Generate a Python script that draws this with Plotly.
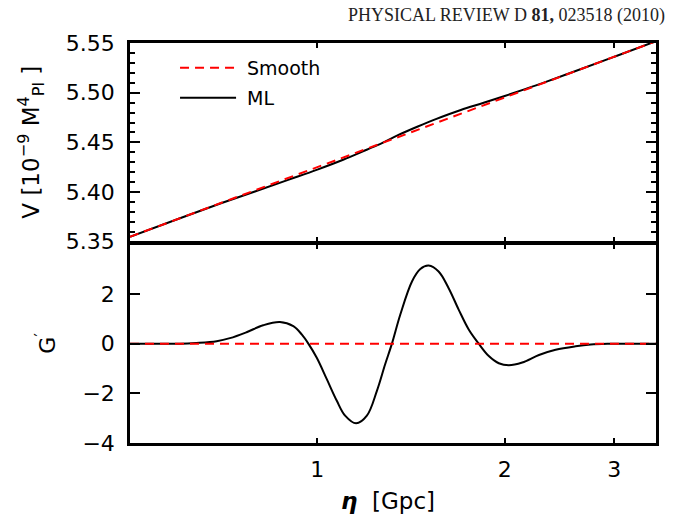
import math
import plotly.graph_objects as go

# ---- data ----
eta_v = [0.5, 0.6, 0.7, 0.8, 0.9, 1.0, 1.1, 1.2, 1.27, 1.35, 1.45, 1.55, 1.7,
         1.85, 2.0, 2.15, 2.3, 2.6, 3.0, 3.5]
v_smooth = [5.3550, 5.3734, 5.3890, 5.4025, 5.4145, 5.4251, 5.4347, 5.4436, 5.4493,
            5.4555, 5.4627, 5.4694, 5.4788, 5.4873, 5.4952, 5.5025, 5.5094, 5.5218,
            5.5362, 5.5518]
v_ml = [5.3550, 5.3734, 5.3887, 5.4013, 5.4125, 5.4226, 5.4325, 5.4426, 5.4493,
        5.4575, 5.4660, 5.4734, 5.4826, 5.4898, 5.4967, 5.5033, 5.5096, 5.5218,
        5.5362, 5.5518]

eta_g = [0.5, 0.601, 0.639, 0.689, 0.7235, 0.7697, 0.8185, 0.8708, 0.9149, 0.9438,
         0.9672, 0.9978, 1.0355, 1.0746, 1.1081, 1.1541, 1.2010, 1.2464, 1.2850,
         1.3177, 1.3592, 1.4191, 1.4636, 1.5093, 1.5660, 1.6253, 1.6866, 1.7505,
         1.8164, 1.8855, 1.9567, 2.0305, 2.1340, 2.2699, 2.4143, 2.6000, 2.749,
         2.924, 3.188, 3.5]
g_ml = [0.0, 0.0, 0.03, 0.1, 0.22, 0.46, 0.74, 0.87, 0.7, 0.37,
        0.0, -0.57, -1.43, -2.3, -2.9, -3.21, -2.9, -1.9, -0.83,
        0.0, 1.17, 2.5, 3.0, 3.14, 2.9, 2.23, 1.37, 0.57,
        0.0, -0.5, -0.79, -0.87, -0.76, -0.46, -0.25, -0.11, -0.04,
        -0.01, 0.0, 0.0]
eta_g_smooth = [0.5, 3.5]
g_smooth = [0.0, 0.0]

x_ticks = [1, 2, 3]
x_ticktext = ["1", "2", "3"]
v_ticks = [5.35, 5.40, 5.45, 5.50, 5.55]
v_ticktext = ["5.35", "5.40", "5.45", "5.50", "5.55"]
v_minor_ticks = [5.36, 5.37, 5.38, 5.39, 5.41, 5.42, 5.43, 5.44, 5.46, 5.47,
                 5.48, 5.49, 5.51, 5.52, 5.53, 5.54]
g_ticks = [-4, -2, 0, 2]
g_ticktext = ["\u22124", "\u22122", "0", "2"]

legend_names = ["Smooth", "ML"]
header_html = "PHYSICAL REVIEW D <b>81,</b> 023518 (2010)"

RED = "#ff0000"
BLK = "#000000"
FONT = "DejaVu Sans"
DASH = "9px,6px"

fig = go.Figure()
fig.add_trace(go.Scatter(x=eta_v, y=v_ml, mode="lines", xaxis="x", yaxis="y",
                         line=dict(color=BLK, width=2, shape="spline", smoothing=1.0),
                         showlegend=False))
fig.add_trace(go.Scatter(x=eta_v, y=v_smooth, mode="lines", xaxis="x", yaxis="y",
                         line=dict(color=RED, width=2, dash=DASH),
                         showlegend=False))
fig.add_trace(go.Scatter(x=eta_g, y=g_ml, mode="lines", xaxis="x2", yaxis="y2",
                         line=dict(color=BLK, width=2, shape="spline", smoothing=1.0),
                         showlegend=False))
fig.add_trace(go.Scatter(x=eta_g_smooth, y=g_smooth, mode="lines", xaxis="x2", yaxis="y2",
                         line=dict(color=RED, width=2, dash=DASH),
                         showlegend=False))

LW = 2.5
PH = 400.0
half = (LW / 2) / PH
xr = [math.log10(0.5), math.log10(3.5)]
common_x = dict(type="log", range=xr, tickvals=x_ticks, ticktext=x_ticktext,
                ticks="inside", ticklen=5, tickwidth=2, tickcolor=BLK,
                showline=True, linewidth=LW, linecolor=BLK, mirror="allticks",
                showgrid=False, zeroline=False,
                tickfont=dict(family=FONT, size=22, color=BLK))

fig.update_layout(
    width=678, height=522,
    margin=dict(l=130, r=22, t=43, b=79),
    paper_bgcolor="white", plot_bgcolor="white",
    showlegend=False,
    xaxis=dict(common_x, domain=[0, 1], anchor="y", showticklabels=False, matches="x2"),
    xaxis2=dict(common_x, domain=[0, 1], anchor="y2", ticklabelstandoff=5),
    yaxis=dict(domain=[0.5 + half, 1], anchor="x", range=[5.35, 5.55],
               tickvals=v_ticks, ticktext=v_ticktext,
               ticks="inside", ticklen=10, tickwidth=2, tickcolor=BLK,
               minor=dict(tickmode="array", tickvals=v_minor_ticks, ticks="inside",
                          ticklen=5, tickwidth=2, tickcolor=BLK, showgrid=False),
               showline=True, linewidth=LW, linecolor=BLK, mirror="allticks",
               showgrid=False, zeroline=False, ticklabelstandoff=8,
               tickfont=dict(family=FONT, size=22, color=BLK)),
    yaxis2=dict(domain=[0, 0.5 - half], anchor="x2", range=[-4, 4],
                tickvals=g_ticks, ticktext=g_ticktext,
                ticks="inside", ticklen=10, tickwidth=2, tickcolor=BLK,
                showline=True, linewidth=LW, linecolor=BLK, mirror="allticks",
                showgrid=False, zeroline=False, ticklabelstandoff=8,
                tickfont=dict(family=FONT, size=22, color=BLK)),
)

# manual legend in top panel (paper coords relative to plot area)
PW = 525.7
def px(xp):
    return (xp - 130) / PW
def py(yp):
    return (443.3 - yp) / PH

legend_styles = [dict(color=RED, width=2, dash=DASH), dict(color=BLK, width=2)]
legend_y = [68, 98]
for name, sty, yy in zip(legend_names, legend_styles, legend_y):
    fig.add_shape(type="line", xref="paper", yref="paper",
                  x0=px(180), x1=px(236), y0=py(yy), y1=py(yy), line=sty)
    fig.add_annotation(text=name, xref="paper", yref="paper", x=px(245), y=py(yy),
                       xanchor="left", yanchor="middle", showarrow=False,
                       font=dict(family=FONT, size=19, color=BLK))

# axis titles
fig.add_annotation(text="V [10<sup>\u22129</sup> M<sup>4</sup><sub>Pl</sub> ]",
                   xref="paper", yref="paper", x=px(31), y=py(142),
                   xanchor="center", yanchor="middle", textangle=-90, showarrow=False,
                   font=dict(family=FONT, size=23, color=BLK))
fig.add_annotation(text="G<sup>\u2032</sup>",
                   xref="paper", yref="paper", x=px(46), y=py(343),
                   xanchor="center", yanchor="middle", textangle=-90, showarrow=False,
                   font=dict(family=FONT, size=22, color=BLK))
fig.add_annotation(text="<b><i>\u03b7</i></b>  [Gpc]",
                   xref="paper", yref="paper", x=px(388), y=py(501),
                   xanchor="center", yanchor="middle", showarrow=False,
                   font=dict(family=FONT, size=23, color=BLK))
fig.add_annotation(text=header_html,
                   xref="paper", yref="paper", x=px(667), y=py(16),
                   xanchor="right", yanchor="middle", showarrow=False,
                   font=dict(family="Liberation Serif", size=18, color="#222222"))

fig.write_html("out.html")
